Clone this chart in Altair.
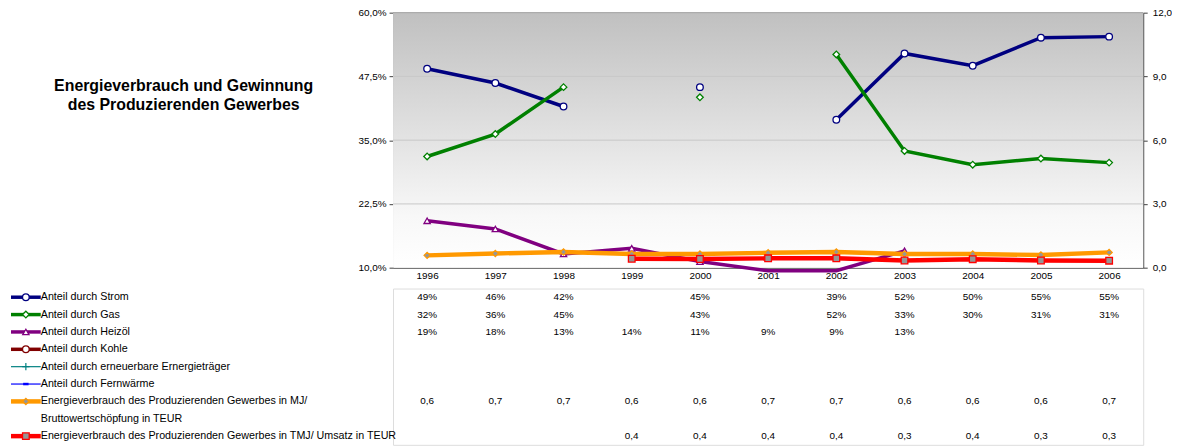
import altair as alt
import pandas as pd

FONT = "Liberation Sans"

years = ["1996", "1997", "1998", "1999", "2000", "2001", "2002", "2003", "2004", "2005", "2006"]

strom = [49.0, 46.2, 41.6, None, 45.4, None, 39.0, 52.0, 49.6, 55.1, 55.3]
gas = [31.8, 36.2, 45.4, None, 43.4, None, 51.8, 32.9, 30.2, 31.4, 30.6]
heizoel = [19.2, 17.6, 12.7, 13.8, 11.2, 9.4, 9.4, 13.3, None, None, None]
kohle = [None] * 11
erneuerbar = [None] * 11
fernwaerme = [None] * 11
mj_bws = [0.58, 0.67, 0.74, 0.64, 0.64, 0.70, 0.74, 0.64, 0.64, 0.60, 0.72]
tmj_umsatz = [None, None, None, 0.42, 0.41, 0.44, 0.44, 0.34, 0.40, 0.34, 0.33]

series_labels = [
    "Anteil durch Strom",
    "Anteil durch Gas",
    "Anteil durch Heizöl",
    "Anteil durch Kohle",
    "Anteil durch erneuerbare Ernergieträger",
    "Anteil durch Fernwärme",
    "Energieverbrauch des Produzierenden Gewerbes in MJ/\nBruttowertschöpfung in TEUR",
    "Energieverbrauch des Produzierenden Gewerbes in TMJ/ Umsatz in TEUR",
]
series_values = [strom, gas, heizoel, kohle, erneuerbar, fernwaerme, mj_bws, tmj_umsatz]
series_axis = ["left", "left", "left", "left", "left", "left", "right", "right"]

left_ticks = [10, 22.5, 35, 47.5, 60]
right_ticks = [0, 3, 6, 9, 12]
grid_vals = [22.5, 35, 47.5]

title_text = "Energieverbrauch und Gewinnung\ndes Produzierenden Gewerbes"

# styles (kept separate from data)
styles = [
    dict(color="#000080", sw=3.5, shape="circle", fill="#FFFFFF", size=45, msw=1.3),
    dict(color="#008000", sw=3.5, shape="diamond", fill="#FFFFFF", size=45, msw=1.3),
    dict(color="#800080", sw=3.5, shape="triangle-up", fill="#FFFFFF", size=40, msw=1.3),
    dict(color="#800000", sw=3.5, shape="circle", fill="#FFFFFF", size=45, msw=1.3),
    dict(color="#008080", sw=1.2, shape="M-1,0L1,0M0,-1L0,1", fill="transparent", size=55, msw=1.2),
    dict(color="#0000FF", sw=1.2, shape="M-1,0L1,0", fill="transparent", size=30, msw=2.5),
    dict(color="#FF9900", sw=4.5, shape="diamond", fill="#969696", size=40, msw=1.2),
    dict(color="#FF0000", sw=4.5, shape="square", fill="#969696", size=45, msw=1.3),
]

W, H = 756, 257
ROW_H = 17.5

x_scale = alt.Scale(type="point", padding=0.5, domain=years)
x_axis = alt.Axis(title=None, labelAngle=0, ticks=False, labelPadding=3,
                  domainColor="#404040", labelFontSize=10, labelColor="#000000",
                  grid=False, labelFont=FONT)
x_enc = alt.X("year:O", sort=years, scale=x_scale, axis=x_axis)

left_scale = alt.Scale(domain=[10, 60], nice=False, zero=False)
left_axis = alt.Axis(title=None, values=left_ticks,
                     labelExpr="replace(format(datum.value,'.1f'),'.',',')+'%'",
                     tickSize=4, labelPadding=3, domainColor="#404040", tickColor="#404040",
                     grid=False, labelFontSize=10, labelColor="#000000", labelFont=FONT)
right_scale = alt.Scale(domain=[0, 12], nice=False, zero=False)
right_axis = alt.Axis(title=None, orient="right", values=right_ticks,
                      labelExpr="replace(format(datum.value,'.1f'),'.',',')",
                      tickSize=4, labelPadding=5, domainColor="#404040", tickColor="#404040",
                      grid=False, labelFontSize=10, labelColor="#000000", labelFont=FONT)

bg = alt.Chart(pd.DataFrame({"k": [0]})).mark_rect(
    fill={"gradient": "linear", "x1": 0, "y1": 0, "x2": 0, "y2": 1,
          "stops": [{"offset": 0, "color": "#c0c0c0"},
                    {"offset": 0.8, "color": "#f8f8f8"},
                    {"offset": 1, "color": "#ffffff"}]}
).encode(x=alt.value(0), x2=alt.value(W), y=alt.value(0), y2=alt.value(H))

top_edge = alt.Chart(pd.DataFrame({"k": [0]})).mark_rule(
    color="#a0a0a0", strokeWidth=1
).encode(x=alt.value(0), x2=alt.value(W), y=alt.value(0))

grid = alt.Chart(pd.DataFrame({"v": grid_vals})).mark_rule(
    color="#c8c8c8", strokeWidth=1
).encode(y=alt.Y("v:Q", scale=left_scale, axis=left_axis))

title = alt.Chart(pd.DataFrame({"t": [title_text]})).mark_text(
    font=FONT, fontSize=16, fontWeight="bold", lineBreak="\n", lineHeight=19,
    align="center", baseline="middle", color="#000000"
).encode(x=alt.value(-211), y=alt.value(74), text="t:N")

left_layers = [bg, top_edge, grid, title]
right_layers = []
for lab, vals, ax, st in zip(series_labels, series_values, series_axis, styles):
    if all(v is None for v in vals):
        continue
    df = pd.DataFrame({"year": years, "v": vals})
    sc, axd = (left_scale, left_axis) if ax == "left" else (right_scale, right_axis)
    lo = sc.domain[0]
    line = alt.Chart(df).mark_line(
        color=st["color"], strokeWidth=st["sw"], invalid="break-paths-show-domains"
    ).encode(x=x_enc, y=alt.Y("v:Q", scale=sc, axis=axd))
    pts = alt.Chart(df).transform_filter(
        f"isValid(datum.v) && datum.v >= {lo}"
    ).mark_point(
        filled=True, opacity=1, fill=st["fill"], stroke=st["color"],
        shape=st["shape"], size=st["size"], strokeWidth=st["msw"]
    ).encode(x=x_enc, y=alt.Y("v:Q", scale=sc, axis=axd))
    if ax == "left":
        left_layers += [line, pts]
    else:
        right_layers += [line, pts]

main = alt.layer(alt.layer(*left_layers), alt.layer(*right_layers)).resolve_scale(
    y="independent"
).properties(width=W, height=H)

# ---- data table below ----
leg_rows, lab_rows, val_rows = [], [], []
r = 0
for lab, vals, ax, st in zip(series_labels, series_values, series_axis, styles):
    leg_rows.append(dict(row=r, color=st["color"], sw=st["sw"], shape=st["shape"],
                         fill=st["fill"], size=st["size"], msw=st["msw"]))
    lines = lab.split("\n")
    for i, ln in enumerate(lines):
        lab_rows.append(dict(row=r + i, text=ln))
    for y, v in zip(years, vals):
        if v is None:
            continue
        txt = f"{v:.0f}%" if ax == "left" else f"{v:.1f}".replace(".", ",")
        val_rows.append(dict(row=r, year=y, text=txt))
    r += len(lines)
n_rows = r

row_scale = alt.Scale(domain=[-0.5, n_rows - 0.5], reverse=True, nice=False, zero=False)
row_y = alt.Y("row:Q", scale=row_scale, axis=None)

leg_df = pd.DataFrame(leg_rows)
leg_lines = alt.Chart(leg_df).mark_rule().encode(
    x=alt.value(-385), x2=alt.value(-355), y=row_y,
    color=alt.Color("color:N", scale=None),
    strokeWidth=alt.StrokeWidth("sw:Q", scale=None),
)
leg_pts = alt.Chart(leg_df).mark_point(filled=True, opacity=1).encode(
    x=alt.value(-370), y=row_y,
    shape=alt.Shape("shape:N", scale=None),
    fill=alt.Fill("fill:N", scale=None),
    stroke=alt.Stroke("color:N", scale=None),
    size=alt.Size("size:Q", scale=None),
    strokeWidth=alt.StrokeWidth("msw:Q", scale=None),
)
leg_text = alt.Chart(pd.DataFrame(lab_rows)).mark_text(
    align="left", baseline="middle", font=FONT, fontSize=10.8, color="#000000"
).encode(x=alt.value(-355), y=row_y, text="text:N")
val_text = alt.Chart(pd.DataFrame(val_rows)).mark_text(
    align="center", baseline="middle", font=FONT, fontSize=10, color="#000000"
).encode(x=alt.X("year:O", sort=years, scale=x_scale, axis=None), y=row_y, text="text:N")

table = alt.layer(leg_lines, leg_pts, leg_text, val_text).properties(
    width=W, height=n_rows * ROW_H
)

chart = alt.vconcat(main, table, spacing=6).resolve_scale(
    x="independent", y="independent"
).properties(
    padding={"left": 0, "top": -3, "right": 0, "bottom": 0}
).configure_view(strokeWidth=0, stroke="transparent").configure(font=FONT)

chart.save("out.html", embed_options={"renderer": "svg", "actions": False})
